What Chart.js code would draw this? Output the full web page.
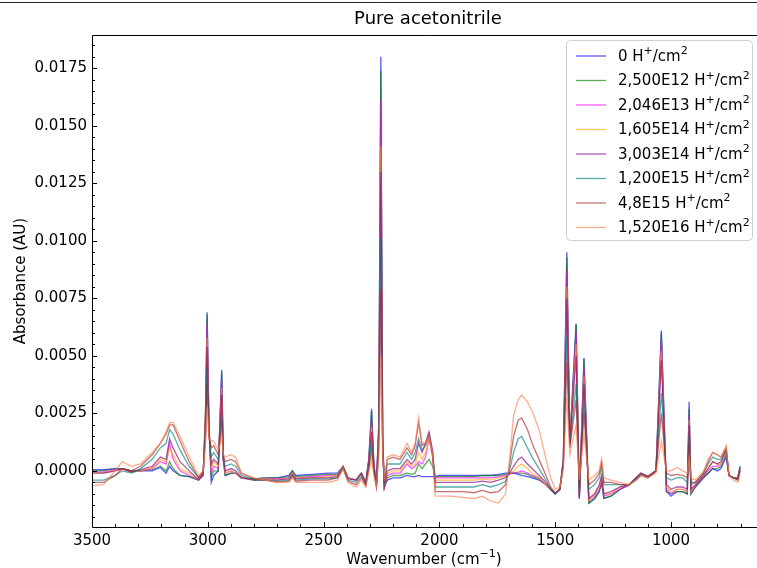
<!DOCTYPE html>
<html lang="en">
<head>
  <meta charset="UTF-8">
  <title>Pure acetonitrile</title>
  <script src="https://cdn.jsdelivr.net/npm/chart.js"></script>
  <style>
    html, body { margin: 0; padding: 0; background: #fff; }
    #wrap { width: 757px; height: 568px; }
  </style>
</head>
<body>
  <div id="wrap"><canvas id="spectra" width="757" height="568"></canvas></div>

  <script>
    // Wavenumbers (cm-1), shared by every spectrum
    const wavenumbers = [
      3500, 3450, 3400, 3370, 3330, 3290, 3240, 3205, 3180, 3165,
      3150, 3120, 3080, 3040, 3020, 3010, 3003, 2995, 2985, 2975,
      2955, 2945, 2940, 2933, 2925, 2900, 2880, 2855, 2800, 2750,
      2700, 2650, 2635, 2620, 2550, 2480, 2440, 2416, 2395, 2360,
      2337, 2318, 2305, 2293, 2283, 2272, 2262, 2253, 2245, 2238,
      2225, 2200, 2170, 2140, 2120, 2105, 2090, 2075, 2060, 2045,
      2030, 2018, 2000, 1950, 1900, 1850, 1815, 1780, 1745, 1715,
      1700, 1680, 1660, 1645, 1620, 1600, 1570, 1540, 1520, 1500,
      1480, 1465, 1450, 1437, 1410, 1396, 1376, 1355, 1330, 1310,
      1300, 1290, 1260, 1220, 1180, 1150, 1130, 1100, 1065, 1042,
      1020, 1000, 975, 950, 930, 922, 914, 895, 860, 840,
      820, 800, 785, 762, 750, 730, 712, 702
    ];

    // Absorbance (AU) for each fluence
    const dose0 = [
      0.5e-4, 0.5e-4, 1e-4, 1e-4, 0e-4, 0e-4, 0e-4, 1.5e-4, -1e-4, 2e-4,
      0e-4, -2e-4, -2.5e-4, -4e-4, -2e-4, 25e-4, 69e-4, 20e-4, -5e-4, -2e-4,
      0e-4, 30e-4, 44e-4, 5e-4, -2e-4, -1e-4, -1e-4, -3e-4, -3.5e-4, -3e-4,
      -3e-4, -2e-4, 0e-4, -2e-4, -1.5e-4, -1e-4, -1e-4, 2e-4, -3e-4, -4e-4,
      -1e-4, -5e-4, 5e-4, 27e-4, 3e-4, -6e-4, 20e-4, 180e-4, 15e-4, -7e-4,
      -4e-4, -3e-4, -3e-4, -2e-4, -2.5e-4, -2.5e-4, -2e-4, -2.5e-4, -2.5e-4, -2.5e-4,
      -2.5e-4, -2.5e-4, -2e-4, -2e-4, -2e-4, -2e-4, -2e-4, -2e-4, -1.5e-4, -1e-4,
      -1e-4, -1e-4, -1.5e-4, -2e-4, -2.5e-4, -3e-4, -4e-4, -6e-4, -8e-4, -10e-4,
      -8e-4, 5e-4, 95e-4, 12e-4, 64e-4, -12e-4, 49e-4, -14e-4, -12e-4, -9e-4,
      -5e-4, -12e-4, -11e-4, -8e-4, -6e-4, -3e-4, -1e-4, -2.5e-4, 0e-4, 61e-4,
      -9e-4, -11e-4, -9e-4, -9e-4, -10e-4, 30e-4, -10e-4, -7e-4, -3e-4, -1e-4,
      1e-4, 0e-4, 1e-4, 6e-4, -2e-4, -3e-4, -3e-4, 2e-4
    ];
    const dose1 = [
      0e-4, 0e-4, 1e-4, 1e-4, 0e-4, 0e-4, 0.5e-4, 2e-4, 0e-4, 4e-4,
      1e-4, -2e-4, -2.5e-4, -4e-4, -2e-4, 25e-4, 68e-4, 20e-4, -3e-4, 0e-4,
      0e-4, 29e-4, 43e-4, 5e-4, -2e-4, -1e-4, -1e-4, -3e-4, -3.5e-4, -3e-4,
      -3e-4, -2.5e-4, 0e-4, -2.5e-4, -2e-4, -1.5e-4, -1.5e-4, 2e-4, -3e-4, -4e-4,
      -1e-4, -5e-4, 5e-4, 26e-4, 3e-4, -6e-4, 20e-4, 174e-4, 14e-4, -7e-4,
      -3e-4, -2e-4, -2e-4, -1e-4, -1.5e-4, -1e-4, 3e-4, 1e-4, 3e-4, 5e-4,
      2e-4, -2.5e-4, -2.5e-4, -2.5e-4, -2.5e-4, -2.5e-4, -2e-4, -2e-4, -2e-4, -1.5e-4,
      -1e-4, -1e-4, -1e-4, -1e-4, -1.5e-4, -2.5e-4, -3.5e-4, -6e-4, -8e-4, -10e-4,
      -8e-4, 5e-4, 93e-4, 12e-4, 64e-4, -12e-4, 49e-4, -14e-4, -12e-4, -9e-4,
      -5e-4, -12e-4, -11e-4, -8e-4, -6e-4, -3e-4, -1e-4, -2.5e-4, 0e-4, 60e-4,
      -9e-4, -10e-4, -9e-4, -9e-4, -10e-4, 27e-4, -10e-4, -7e-4, -3e-4, -1e-4,
      1e-4, 1e-4, 2e-4, 7e-4, -2e-4, -3e-4, -3e-4, 2e-4
    ];
    const dose2 = [
      -0.5e-4, -0.5e-4, 0.5e-4, 1e-4, -0.5e-4, 0e-4, 1e-4, 4e-4, 3e-4, 12e-4,
      5e-4, 0e-4, -2e-4, -4e-4, -2e-4, 23e-4, 64e-4, 19e-4, -1e-4, 2e-4,
      1e-4, 27e-4, 40e-4, 5e-4, -1e-4, 0e-4, -1e-4, -3e-4, -4e-4, -3.5e-4,
      -3.5e-4, -3e-4, -1e-4, -3e-4, -2.5e-4, -2e-4, -2e-4, 2e-4, -3e-4, -4e-4,
      -1e-4, -5e-4, 4e-4, 22e-4, 2e-4, -6e-4, 18e-4, 161e-4, 13e-4, -7e-4,
      -2e-4, -1e-4, -1e-4, 3e-4, 1e-4, 2e-4, 4e-4, 3e-4, 6e-4, 14e-4,
      6e-4, -3e-4, -3e-4, -3e-4, -3e-4, -3e-4, -3e-4, -3e-4, -2.5e-4, -2e-4,
      -1.5e-4, -1e-4, -0.5e-4, 0e-4, -1e-4, -2e-4, -3e-4, -6e-4, -8e-4, -10e-4,
      -8e-4, 4e-4, 87e-4, 12e-4, 60e-4, -12e-4, 45e-4, -13e-4, -11e-4, -8e-4,
      -4e-4, -11e-4, -10e-4, -8e-4, -6e-4, -3e-4, -1e-4, -2.5e-4, 0e-4, 57e-4,
      -8e-4, -10e-4, -8e-4, -8e-4, -9e-4, 24e-4, -9e-4, -6.5e-4, -2.5e-4, 0e-4,
      2e-4, 2e-4, 3e-4, 8e-4, -2e-4, -3e-4, -3e-4, 1e-4
    ];
    const dose3 = [
      -0.5e-4, -1e-4, 0e-4, 1e-4, -0.5e-4, 0e-4, 1.5e-4, 5e-4, 4e-4, 10e-4,
      7e-4, 1e-4, -1e-4, -4e-4, -1e-4, 22e-4, 58e-4, 18e-4, 1e-4, 4e-4,
      2e-4, 24e-4, 36e-4, 5e-4, -1e-4, 0e-4, -1e-4, -3e-4, -4e-4, -3.5e-4,
      -4e-4, -3e-4, -1e-4, -3e-4, -3e-4, -2.5e-4, -2e-4, 2e-4, -3e-4, -4e-4,
      -1e-4, -5e-4, 3e-4, 19e-4, 1e-4, -6e-4, 16e-4, 141e-4, 12e-4, -7e-4,
      -1e-4, 0e-4, 0e-4, 4e-4, 2e-4, 3e-4, 8e-4, 5e-4, 8e-4, 14e-4,
      7e-4, -4e-4, -4e-4, -4e-4, -4e-4, -4e-4, -3.5e-4, -4e-4, -3e-4, -2.5e-4,
      -1.5e-4, 0e-4, 2e-4, 3e-4, 1e-4, -1e-4, -3e-4, -6e-4, -8e-4, -10e-4,
      -8e-4, 4e-4, 80e-4, 12e-4, 55e-4, -11e-4, 41e-4, -13e-4, -10e-4, -7e-4,
      -3e-4, -10e-4, -10e-4, -7e-4, -6e-4, -3e-4, -1e-4, -2.5e-4, 0e-4, 52e-4,
      -7e-4, -9e-4, -8e-4, -8e-4, -9e-4, 22e-4, -9e-4, -6e-4, -2e-4, 1e-4,
      4e-4, 3e-4, 3e-4, 9e-4, -2e-4, -3e-4, -3e-4, 1e-4
    ];
    const dose4 = [
      -1e-4, -1e-4, 0e-4, 1e-4, -0.5e-4, 0.5e-4, 2e-4, 6e-4, 5e-4, 14e-4,
      10e-4, 4e-4, 0e-4, -4e-4, -1e-4, 20e-4, 54e-4, 17e-4, 3e-4, 5e-4,
      3e-4, 22e-4, 33e-4, 5e-4, 0e-4, 1e-4, 0e-4, -3e-4, -4e-4, -4e-4,
      -4e-4, -3.5e-4, -1.5e-4, -3.5e-4, -3e-4, -3e-4, -2.5e-4, 1.5e-4, -3.5e-4, -4e-4,
      -1e-4, -5.5e-4, 3e-4, 17e-4, 1e-4, -6e-4, 15e-4, 130e-4, 11e-4, -7e-4,
      0e-4, 1e-4, 1e-4, 5e-4, 3e-4, 5e-4, 12e-4, 8e-4, 12e-4, 17e-4,
      9e-4, -5e-4, -5e-4, -5e-4, -5e-4, -5e-4, -4.5e-4, -5e-4, -4e-4, -3e-4,
      -1.5e-4, 2e-4, 5e-4, 6e-4, 3e-4, 1e-4, -2e-4, -5e-4, -8e-4, -10e-4,
      -8e-4, 4e-4, 75e-4, 12e-4, 50e-4, -11e-4, 38e-4, -12e-4, -10e-4, -6e-4,
      -2e-4, -10e-4, -9e-4, -7e-4, -6e-4, -3e-4, -1e-4, -2.5e-4, 0e-4, 48e-4,
      -6e-4, -8e-4, -7e-4, -7e-4, -8e-4, 20e-4, -8e-4, -6e-4, -2e-4, 1e-4,
      4e-4, 3e-4, 4e-4, 9e-4, -2e-4, -3e-4, -3.5e-4, 1e-4
    ];
    const dose5 = [
      -4e-4, -4e-4, -2e-4, 0e-4, -1e-4, 1e-4, 5e-4, 10e-4, 12e-4, 18e-4,
      16e-4, 9e-4, 2e-4, -3e-4, 0e-4, 17e-4, 45e-4, 16e-4, 6e-4, 8e-4,
      5e-4, 18e-4, 25e-4, 6e-4, 2e-4, 3e-4, 2e-4, -2e-4, -4e-4, -4e-4,
      -4.5e-4, -4e-4, -2e-4, -4e-4, -3.5e-4, -3.5e-4, -3e-4, 1.5e-4, -4e-4, -5e-4,
      -2e-4, -6e-4, 2e-4, 13e-4, 0e-4, -6.5e-4, 12e-4, 101e-4, 9e-4, -6e-4,
      3e-4, 3e-4, 3e-4, 8e-4, 5e-4, 8e-4, 14e-4, 9e-4, 11e-4, 15e-4,
      8e-4, -7e-4, -7e-4, -7e-4, -7e-4, -7e-4, -6e-4, -7e-4, -6e-4, -4.5e-4,
      -1e-4, 8e-4, 14e-4, 15e-4, 10e-4, 6e-4, 1e-4, -4e-4, -8e-4, -10e-4,
      -8e-4, 3e-4, 59e-4, 11e-4, 38e-4, -9e-4, 30e-4, -8e-4, -6e-4, -3e-4,
      2e-4, -6e-4, -6e-4, -6e-4, -6e-4, -3.5e-4, -1.5e-4, -3e-4, 0e-4, 34e-4,
      -3e-4, -4e-4, -3e-4, -3e-4, -5e-4, 15e-4, -6e-4, -5e-4, -1e-4, 3e-4,
      6e-4, 5e-4, 5e-4, 9e-4, -2e-4, -3e-4, -4e-4, 0e-4
    ];
    const dose6 = [
      -5e-4, -5e-4, -2e-4, 1e-4, 0e-4, 2e-4, 7e-4, 12e-4, 16e-4, 20e-4,
      20e-4, 13e-4, 4e-4, -3e-4, 0e-4, 14e-4, 38e-4, 15e-4, 10e-4, 11e-4,
      7e-4, 15e-4, 22e-4, 7e-4, 4e-4, 5e-4, 4e-4, -1e-4, -3.5e-4, -4e-4,
      -5e-4, -4.5e-4, -2.5e-4, -4.5e-4, -4e-4, -4e-4, -3e-4, 1e-4, -4.5e-4, -6e-4,
      -3e-4, -6.5e-4, 1e-4, 9e-4, -1e-4, -7e-4, 9e-4, 79e-4, 8e-4, -5e-4,
      5e-4, 6e-4, 5e-4, 10e-4, 7e-4, 11e-4, 21e-4, 11e-4, 12e-4, 16e-4,
      8e-4, -9e-4, -9e-4, -9e-4, -9e-4, -9.5e-4, -8.5e-4, -9.5e-4, -9e-4, -6e-4,
      1e-4, 15e-4, 22e-4, 23e-4, 18e-4, 12e-4, 5e-4, -2e-4, -7e-4, -9.5e-4,
      -8e-4, 2e-4, 47e-4, 10e-4, 31e-4, -7e-4, 25e-4, -6e-4, -4e-4, -1e-4,
      4e-4, -5e-4, -5e-4, -6e-4, -6e-4, -4e-4, -2e-4, -3e-4, 0e-4, 25e-4,
      -1e-4, -2e-4, -1.5e-4, -2e-4, -3e-4, 12e-4, -5e-4, -5e-4, -1e-4, 4e-4,
      8e-4, 7e-4, 6e-4, 10e-4, -2e-4, -3e-4, -4e-4, 0e-4
    ];
    const dose7 = [
      -6.5e-4, -6e-4, 0e-4, 4e-4, 2e-4, 3e-4, 8e-4, 12e-4, 17e-4, 21e-4,
      21e-4, 15e-4, 6e-4, -2e-4, 0e-4, 11e-4, 28e-4, 14e-4, 13e-4, 13e-4,
      9e-4, 12e-4, 16e-4, 7e-4, 6e-4, 7e-4, 6e-4, -1e-4, -3e-4, -4e-4,
      -5e-4, -5e-4, -3e-4, -5e-4, -5e-4, -5e-4, -4e-4, 1e-4, -5e-4, -7e-4,
      -4e-4, -7e-4, -1e-4, 5e-4, -2e-4, -7e-4, 6e-4, 50e-4, 6e-4, -3e-4,
      6e-4, 7e-4, 6e-4, 12e-4, 8e-4, 12e-4, 23e-4, 12e-4, 12e-4, 15e-4,
      8e-4, -11e-4, -11e-4, -11e-4, -11.5e-4, -12e-4, -11e-4, -13e-4, -14e-4, -10e-4,
      2e-4, 24e-4, 31e-4, 33e-4, 30e-4, 26e-4, 18e-4, 5e-4, -3e-4, -8e-4,
      -7e-4, 1e-4, 32e-4, 7e-4, 20e-4, -4e-4, 16e-4, -4e-4, -2e-4, 0e-4,
      5e-4, -3e-4, -4e-4, -5e-4, -6e-4, -4e-4, -2e-4, -3e-4, -1e-4, 13e-4,
      0e-4, 0e-4, 1.5e-4, 0e-4, -1e-4, 6e-4, -3e-4, -4e-4, 0e-4, 5e-4,
      8e-4, 7e-4, 6e-4, 11e-4, -2e-4, -4e-4, -5e-4, -2e-4
    ];

    const doseLabels = [
      '0 H⁺/cm²', '2,500E12 H⁺/cm²', '2,046E13 H⁺/cm²', '1,605E14 H⁺/cm²',
      '3,003E14 H⁺/cm²', '1,200E15 H⁺/cm²', '4,8E15 H⁺/cm²', '1,520E16 H⁺/cm²'
    ];
    const xTickValues = [3500, 3000, 2500, 2000, 1500, 1000];
    const yTickValues = [0, 0.0025, 0.005, 0.0075, 0.01, 0.0125, 0.015, 0.0175];

    const lineColors = [
      'rgba(0, 0, 255, 0.65)', 'rgba(0, 128, 0, 0.65)', 'rgba(255, 0, 255, 0.65)',
      'rgba(255, 165, 0, 0.65)', 'rgba(128, 0, 128, 0.65)', 'rgba(0, 128, 128, 0.65)',
      'rgba(165, 42, 42, 0.65)', 'rgba(255, 127, 80, 0.65)'
    ];

    const spectra = [dose0, dose1, dose2, dose3, dose4, dose5, dose6, dose7];
    const FONT = '"DejaVu Sans", sans-serif';
    const SUP = { '⁺': '+', '²': '2', '⁻': '\u2212', '¹': '1' };

    // draws text with the unicode superscripts raised like mathtext does
    function drawRich(ctx, text, x, y, size, align) {
      const parts = [];
      for (const ch of text) {
        const sup = ch in SUP;
        const t = sup ? SUP[ch] : ch;
        const last = parts[parts.length - 1];
        if (last && last.sup === sup) last.t += t; else parts.push({ t, sup });
      }
      const supSize = Math.round(size * 0.7);
      let total = 0;
      parts.forEach(p => {
        ctx.font = (p.sup ? supSize : size) + 'px ' + FONT;
        p.w = ctx.measureText(p.t).width;
        total += p.w;
      });
      let cx = align === 'center' ? x - total / 2 : x;
      ctx.textAlign = 'left';
      ctx.textBaseline = 'middle';
      parts.forEach(p => {
        ctx.font = (p.sup ? supSize : size) + 'px ' + FONT;
        ctx.fillText(p.t, cx, p.sup ? y - size * 0.36 : y);
        cx += p.w;
      });
    }

    // frame, inward ticks, titles and legend drawn the matplotlib way
    const decorations = {
      id: 'decorations',
      afterDraw(chart) {
        const ctx = chart.ctx;
        const a = chart.chartArea;
        const xs = chart.scales.x, ys = chart.scales.y;
        ctx.save();

        // thin rule at the very top of the picture
        ctx.strokeStyle = '#222';
        ctx.lineWidth = 1;
        ctx.beginPath();
        ctx.moveTo(0, 2.5); ctx.lineTo(757, 2.5);
        ctx.stroke();

        // axes frame
        ctx.strokeStyle = '#000';
        ctx.beginPath();
        ctx.moveTo(a.right + 1, Math.round(a.top) + 0.5);
        ctx.lineTo(Math.round(a.left) + 0.5, Math.round(a.top) + 0.5);
        ctx.lineTo(Math.round(a.left) + 0.5, Math.round(a.bottom) + 0.5);
        ctx.lineTo(a.right + 1, Math.round(a.bottom) + 0.5);
        ctx.stroke();

        // ticks pointing inwards
        ctx.beginPath();
        for (let w = 3500; w >= 700; w -= 100) {
          const px = Math.round(xs.getPixelForValue(w)) + 0.5;
          const len = w % 500 === 0 ? 5 : 3;
          ctx.moveTo(px, a.bottom);
          ctx.lineTo(px, a.bottom - len);
        }
        for (let k = -4; k <= 37; k++) {
          const v = k * 0.0005;
          const py = Math.round(ys.getPixelForValue(v)) + 0.5;
          if (py < a.top || py > a.bottom) continue;
          const len = k % 5 === 0 ? 5 : 3;
          ctx.moveTo(a.left, py);
          ctx.lineTo(a.left + len, py);
        }
        ctx.stroke();

        // titles
        ctx.fillStyle = '#000';
        ctx.textAlign = 'center';
        ctx.textBaseline = 'middle';
        ctx.font = '18px ' + FONT;
        ctx.fillText('Pure acetonitrile', 428, 19);
        drawRich(ctx, 'Wavenumber (cm⁻¹)', 424, 560, 15, 'center');
        ctx.save();
        ctx.translate(21, 281);
        ctx.rotate(-Math.PI / 2);
        ctx.textAlign = 'center';
        ctx.font = '15px ' + FONT;
        ctx.fillText('Absorbance (AU)', 0, 0);
        ctx.restore();

        // legend box
        const lx = 566.5, ly = 40.5, lw = 186, lh = 200, r = 4;
        ctx.beginPath();
        ctx.moveTo(lx + r, ly);
        ctx.arcTo(lx + lw, ly, lx + lw, ly + lh, r);
        ctx.arcTo(lx + lw, ly + lh, lx, ly + lh, r);
        ctx.arcTo(lx, ly + lh, lx, ly, r);
        ctx.arcTo(lx, ly, lx + lw, ly, r);
        ctx.closePath();
        ctx.fillStyle = 'rgba(255,255,255,0.8)';
        ctx.fill();
        ctx.strokeStyle = '#d0d0d0';
        ctx.stroke();

        chart.data.datasets.forEach((ds, i) => {
          const y = 56 + i * 24.5;
          ctx.strokeStyle = ds.borderColor;
          ctx.lineWidth = 1.3;
          ctx.beginPath();
          ctx.moveTo(576, y); ctx.lineTo(606, y);
          ctx.stroke();
          ctx.fillStyle = '#000';
          drawRich(ctx, ds.label, 618, y + 1, 15, 'left');
        });
        ctx.restore();
      }
    };

    const ctx = document.getElementById('spectra').getContext('2d');
    const chart = new Chart(ctx, {
      type: 'line',
      data: {
        datasets: spectra.map((vals, i) => ({
          label: doseLabels[i],
          data: wavenumbers.map((w, j) => ({ x: w, y: vals[j] })),
          borderColor: lineColors[i],
          borderWidth: 1.3,
          pointRadius: 0,
          tension: 0,
          fill: false,
          order: spectra.length - i
        }))
      },
      options: {
        responsive: false,
        animation: false,
        devicePixelRatio: 1,
        layout: { padding: { top: 35, right: 0, bottom: 0, left: 0 } },
        plugins: {
          legend: { display: false },
          title: { display: false },
          tooltip: { enabled: false }
        },
        scales: {
          x: {
            type: 'linear',
            reverse: true,
            min: 629,
            max: 3500,
            grid: { display: false, drawTicks: false },
            border: { display: false },
            afterBuildTicks: s => { s.ticks = xTickValues.map(v => ({ value: v })); },
            afterFit: s => { s.height = 41; },
            ticks: {
              font: { family: FONT, size: 15 },
              color: '#000',
              padding: 5,
              maxRotation: 0,
              autoSkip: false,
              callback: v => String(v)
            }
          },
          y: {
            min: -0.00244,
            max: 0.01895,
            grid: { display: false, drawTicks: false },
            border: { display: false },
            afterBuildTicks: s => { s.ticks = yTickValues.map(v => ({ value: v })); },
            afterFit: s => { s.width = 92; },
            ticks: {
              font: { family: FONT, size: 15 },
              color: '#000',
              padding: 5,
              autoSkip: false,
              callback: v => v.toFixed(4)
            }
          }
        }
      },
      plugins: [decorations]
    });
  </script>
</body>
</html>
